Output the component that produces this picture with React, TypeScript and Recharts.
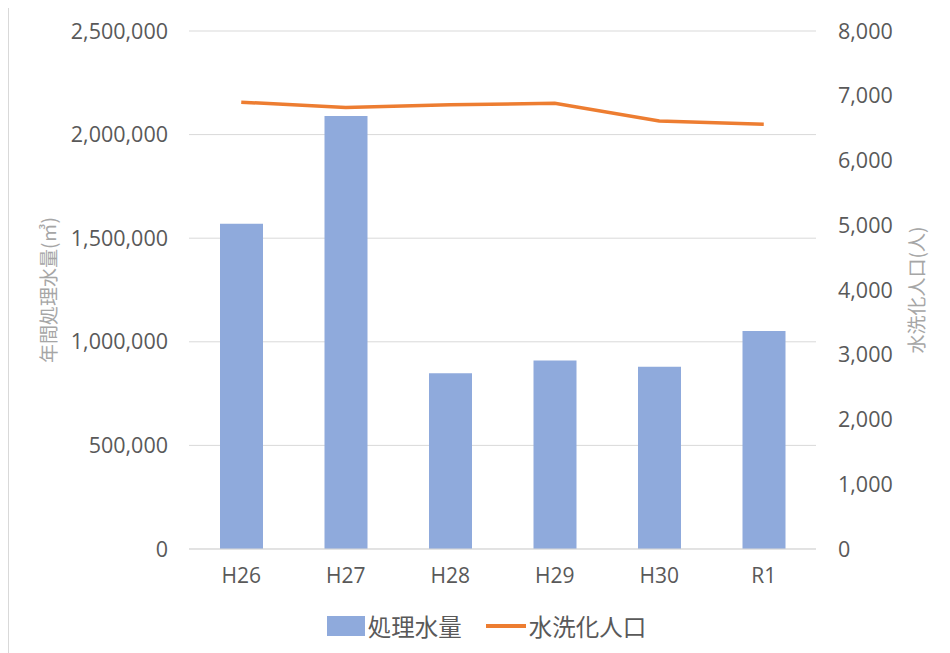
import {
  ComposedChart,
  Bar,
  Line,
  XAxis,
  YAxis,
  CartesianGrid,
  Legend,
  Label,
} from 'recharts';

// fiscal years (Heisei 26 .. Reiwa 1)
const years = ['H26', 'H27', 'H28', 'H29', 'H30', 'R1'];
// 処理水量 (m3 / year)
const treatedWater = [1570000, 2090000, 848000, 910000, 880000, 1052000];
// 水洗化人口 (persons)
const population = [6900, 6820, 6860, 6885, 6610, 6560];

const leftTicks = [0, 500000, 1000000, 1500000, 2000000, 2500000];
const rightTicks = [0, 1000, 2000, 3000, 4000, 5000, 6000, 7000, 8000];

const barColor = '#8faadc';
const lineColor = '#ed7d31';
const font = "'Open Sans', 'Noto Sans CJK JP', sans-serif";
const cjkFont = "'Noto Sans CJK JP', 'Open Sans', sans-serif";

const chartData = years.map((year, i) => ({
  year,
  water: treatedWater[i],
  people: population[i],
}));

const fmt = (v: number) => v.toLocaleString('en-US');

function LegendContent() {
  return (
    <div
      style={{
        display: 'flex',
        justifyContent: 'center',
        alignItems: 'center',
        height: 40,
        paddingLeft: 14,
        fontFamily: cjkFont,
        fontSize: 23.5,
        color: '#595959',
      }}
    >
      <span style={{ width: 38, height: 20, background: barColor, marginRight: 3 }} />
      <span style={{ marginRight: 24 }}>処理水量</span>
      <span style={{ width: 40, height: 4, background: lineColor, marginRight: 3 }} />
      <span>水洗化人口</span>
    </div>
  );
}

export default function App() {
  return (
    <div
      style={{
        width: 942,
        height: 646,
        marginTop: -1,
        borderTop: '1px solid #d9d9d9',
        borderLeft: '1px solid #d9d9d9',
        background: '#fff',
      }}
    >
      <ComposedChart
        width={941}
        height={645}
        data={chartData}
        margin={{ top: 23, right: 14, bottom: 14, left: 0 }}
        barSize={43}
      >
        <CartesianGrid yAxisId="left" vertical={false} stroke="#d9d9d9" />
        <XAxis
          dataKey="year"
          height={50}
          tickLine={false}
          axisLine={{ stroke: '#d9d9d9' }}
          tickMargin={13}
          tick={{ fill: '#595959', fontSize: 21, fontFamily: font }}
        />
        <YAxis
          yAxisId="left"
          width={180}
          domain={[0, 2500000]}
          ticks={leftTicks}
          tickFormatter={fmt}
          axisLine={false}
          tickLine={false}
          tickMargin={15}
          tick={{ fill: '#595959', fontSize: 21.5, fontFamily: font }}
        >
          <Label
            value="年間処理水量(㎥)"
            angle={-90}
            position="insideLeft"
            offset={40}
            style={{ textAnchor: 'middle', fill: '#a6a6a6', fontSize: 19, fontFamily: cjkFont }}
          />
        </YAxis>
        <YAxis
          yAxisId="right"
          orientation="right"
          width={120}
          domain={[0, 8000]}
          ticks={rightTicks}
          tickFormatter={fmt}
          axisLine={false}
          tickLine={false}
          tickMargin={16}
          tick={{ fill: '#595959', fontSize: 21.5, fontFamily: font }}
        >
          <Label
            value="水洗化人口(人)"
            angle={-90}
            position="insideRight"
            offset={19}
            style={{ textAnchor: 'middle', fill: '#a6a6a6', fontSize: 19, fontFamily: cjkFont }}
          />
        </YAxis>
        <Legend
          verticalAlign="bottom"
          content={<LegendContent />}
          wrapperStyle={{ top: 598, left: 0, width: 941, height: 40 }}
        />
        <Bar
          yAxisId="left"
          dataKey="water"
          name="処理水量"
          fill={barColor}
          isAnimationActive={false}
        />
        <Line
          yAxisId="right"
          dataKey="people"
          name="水洗化人口"
          type="linear"
          stroke={lineColor}
          strokeWidth={3.5}
          dot={false}
          activeDot={false}
          isAnimationActive={false}
        />
      </ComposedChart>
    </div>
  );
}
